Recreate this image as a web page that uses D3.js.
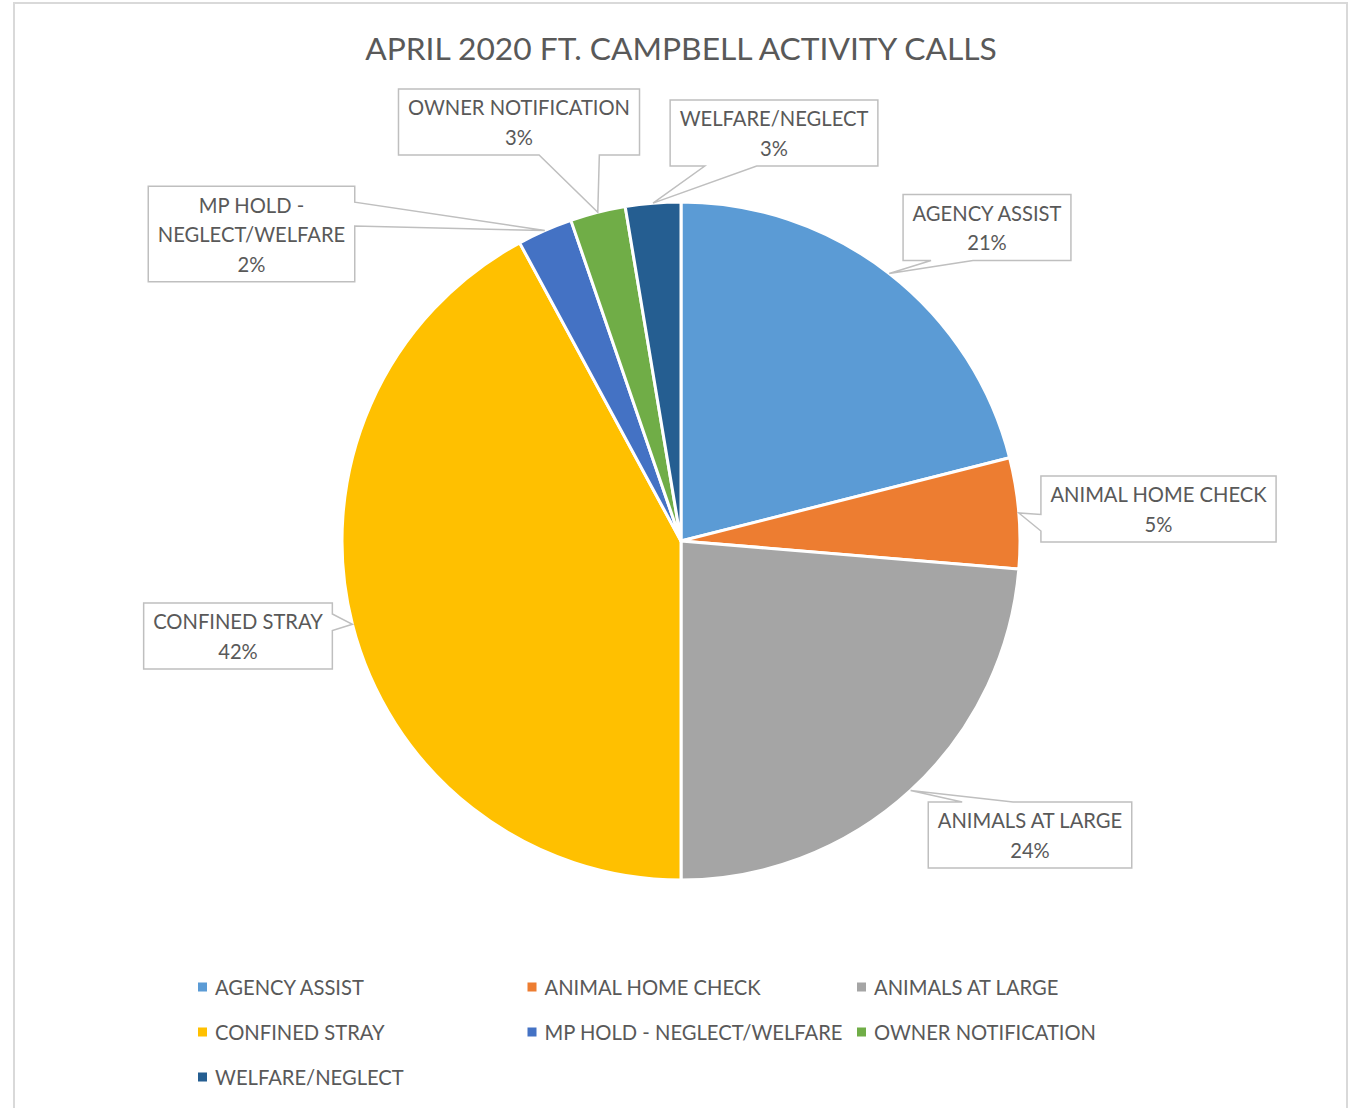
<!DOCTYPE html>
<html>
<head>
<meta charset="utf-8">
<script src="https://cdn.jsdelivr.net/npm/d3@7"></script>
<style>
  body { margin: 0; background: #fff; }
  text { font-family: Lato, "Open Sans", sans-serif; fill: #595959; }
</style>
</head>
<body>
<svg id="chart" width="1353" height="1108"></svg>
<script>
// data (call counts, total 38)
var categories = ["AGENCY ASSIST", "ANIMAL HOME CHECK", "ANIMALS AT LARGE", "CONFINED STRAY",
                  "MP HOLD - NEGLECT/WELFARE", "OWNER NOTIFICATION", "WELFARE/NEGLECT"];
var calls = [8, 2, 9, 16, 1, 1, 1];
var pctLabels = ["21%", "5%", "24%", "42%", "2%", "3%", "3%"];
var labelNames = [["AGENCY ASSIST"], ["ANIMAL HOME CHECK"], ["ANIMALS AT LARGE"], ["CONFINED STRAY"],
                  ["MP HOLD -", "NEGLECT/WELFARE"], ["OWNER NOTIFICATION"], ["WELFARE/NEGLECT"]];
var colors = ["#5B9BD5", "#ED7D31", "#A5A5A5", "#FFC000", "#4472C4", "#70AD47", "#255E91"];

// callout box centres (hand placed, like the excel sheet)
var calloutPos = [[987, 227.5], [1158.5, 509], [1030, 835], [238, 636], [251.5, 234], [519, 122], [774, 133]];

var svg = d3.select("#chart");
var cx = 681, cy = 541, radius = 339;
var lineH = 29.5;

// frame of the chart area
svg.append("rect")
	.attr("x", 14).attr("y", 3)
	.attr("width", 1333).attr("height", 1130)
	.attr("fill", "none")
	.attr("stroke", "#d9d9d9")
	.attr("stroke-width", 2);

// pick a font size so the stand-in font is as wide as the original
function fitSize(str, target, base){
	var t = svg.append("text").style("font-size", base + "px").text(str);
	var w = t.node().getComputedTextLength();
	t.remove();
	return base * target / w;
}
var titleSize = fitSize("APRIL 2020 FT. CAMPBELL ACTIVITY CALLS", 632, 30);
var labelSize = fitSize("AGENCY ASSIST", 149, 24);

svg.append("text")
	.attr("x", cx).attr("y", 48)
	.attr("text-anchor", "middle")
	.attr("dominant-baseline", "central")
	.style("font-size", titleSize + "px")
	.text("APRIL 2020 FT. CAMPBELL ACTIVITY CALLS");

var pie = d3.pie().sort(null).value(function(d){ return d; });
var arcs = pie(calls);
var arc = d3.arc().innerRadius(0).outerRadius(radius);

var g = svg.append("g").attr("transform", "translate(" + cx + "," + cy + ")");

g.selectAll("path.slice")
	.data(arcs)
	.enter()
	.append("path")
	.attr("class", "slice")
	.attr("d", arc)
	.attr("fill", function(d, i){ return colors[i]; })
	.attr("stroke", "#fff")
	.attr("stroke-width", 3)
	.attr("stroke-linejoin", "round");

// callout shape: box with a wedge pointing at the slice edge
function calloutPath(x0, y0, x1, y1, tx, ty){
	var mx = (x0 + x1) / 2, my = (y0 + y1) / 2;
	var nx = (tx - mx) / ((x1 - x0) / 2), ny = (ty - my) / ((y1 - y0) / 2);
	var pts;
	if(Math.abs(ny) >= Math.abs(nx)){
		var w = x1 - x0;
		var a = tx < mx ? [x0 + w / 6, x0 + w * 5 / 12] : [x0 + w * 7 / 12, x0 + w * 5 / 6];
		if(ny > 0){
			pts = [[x0, y0], [x1, y0], [x1, y1], [a[1], y1], [tx, ty], [a[0], y1], [x0, y1]];
		}else{
			pts = [[x0, y0], [a[0], y0], [tx, ty], [a[1], y0], [x1, y0], [x1, y1], [x0, y1]];
		}
	}else{
		var h = y1 - y0;
		var b = ty < my ? [y0 + h / 6, y0 + h * 5 / 12] : [y0 + h * 7 / 12, y0 + h * 5 / 6];
		if(nx > 0){
			pts = [[x0, y0], [x1, y0], [x1, b[0]], [tx, ty], [x1, b[1]], [x1, y1], [x0, y1]];
		}else{
			pts = [[x0, y0], [x1, y0], [x1, y1], [x0, y1], [x0, b[1]], [tx, ty], [x0, b[0]]];
		}
	}
	return "M" + pts.map(function(p){ return p[0] + "," + p[1]; }).join("L") + "Z";
}

var labels = svg.append("g");
arcs.forEach(function(d, i){
	var lines = labelNames[i].concat([pctLabels[i]]);
	var pos = calloutPos[i];
	var grp = labels.append("g");
	var box = grp.append("path");
	var widest = 0;
	lines.forEach(function(s, k){
		var t = grp.append("text")
			.attr("x", pos[0])
			.attr("y", pos[1] + (k - (lines.length - 1) / 2) * lineH)
			.attr("text-anchor", "middle")
			.attr("dominant-baseline", "central")
			.style("font-size", labelSize + "px")
			.text(s);
		widest = Math.max(widest, t.node().getComputedTextLength());
	});
	var bw = widest + 19, bh = lines.length * lineH + 7;
	var mid = (d.startAngle + d.endAngle) / 2;
	var tx = cx + radius * Math.sin(mid), ty = cy - radius * Math.cos(mid);
	box.attr("d", calloutPath(pos[0] - bw / 2, pos[1] - bh / 2, pos[0] + bw / 2, pos[1] + bh / 2, tx, ty))
		.attr("fill", "#fff")
		.attr("stroke", "#bfbfbf")
		.attr("stroke-width", 1.5);
});

// legend, three per row
var legend = svg.append("g");
categories.forEach(function(c, i){
	var lx = 198 + (i % 3) * 329.5;
	var ly = 987 + Math.floor(i / 3) * 45;
	legend.append("rect")
		.attr("x", lx).attr("y", ly - 4.5)
		.attr("width", 9).attr("height", 9)
		.attr("fill", colors[i]);
	legend.append("text")
		.attr("x", lx + 17).attr("y", ly)
		.attr("dominant-baseline", "central")
		.style("font-size", labelSize + "px")
		.text(c);
});
</script>
</body>
</html>
